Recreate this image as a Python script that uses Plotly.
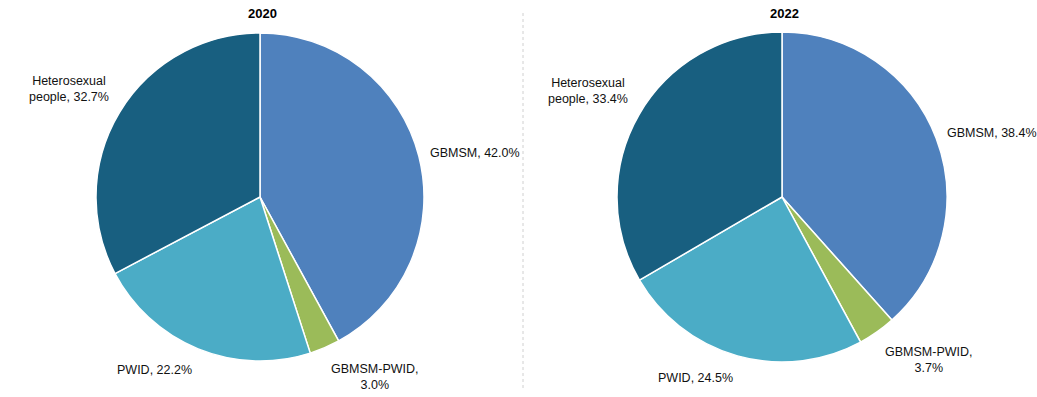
import math
import plotly.graph_objects as go

years = ["2020", "2022"]
categories = ["GBMSM", "GBMSM-PWID", "PWID", "Heterosexual people"]
label_text = ["GBMSM, {v:.1f}%", "GBMSM-PWID,<br>{v:.1f}%", "PWID, {v:.1f}%", "Heterosexual<br>people, {v:.1f}%"]
values_2020 = [42.0, 3.0, 22.2, 32.7]
values_2022 = [38.4, 3.7, 24.5, 33.4]
colors = ["#4F81BD", "#9BBB59", "#4BACC6", "#185F80"]

W, H = 1037, 397
pies = [
    dict(year=years[0], values=values_2020, cx=260, cy=197, r=164),
    dict(year=years[1], values=values_2022, cx=782, cy=197, r=165),
]

def fx(x):
    return x / W

def fy(y):
    return 1 - y / H

fig = go.Figure()
annotations = []
FONT = "Liberation Sans"
for p in pies:
    cx, cy, r = p["cx"], p["cy"], p["r"]
    fig.add_trace(go.Pie(
        labels=categories, values=p["values"], sort=False, direction="clockwise",
        rotation=0, marker=dict(colors=colors, line=dict(color="white", width=1.5)),
        textinfo="none", hoverinfo="label+percent", showlegend=False,
        domain=dict(x=[fx(cx - r), fx(cx + r)], y=[fy(cy + r), fy(cy - r)]),
    ))
    total = sum(p["values"])
    cum = 0.0
    for i, v in enumerate(p["values"]):
        mid = (cum + v / 2) / total * 2 * math.pi
        cum += v
        dx, dy = math.sin(mid), math.cos(mid)  # dy positive = up
        px = cx + 1.06 * r * dx
        py = cy - 1.08 * r * dy
        xa = "left" if dx > 0.2 else ("right" if dx < -0.2 else "center")
        ya = "bottom" if dy > 0.45 else ("top" if dy < -0.45 else "middle")
        annotations.append(dict(
            x=fx(px), y=fy(py), xref="paper", yref="paper",
            text=label_text[i].format(v=v), showarrow=False,
            xanchor=xa, yanchor=ya, align="center",
            font=dict(family=FONT, size=12.5, color="#111111"),
        ))
    annotations.append(dict(
        x=fx(cx + 2), y=fy(14), xref="paper", yref="paper",
        text="<b>" + p["year"] + "</b>", showarrow=False,
        xanchor="center", yanchor="middle",
        font=dict(family=FONT, size=13, color="#000000"),
    ))

fig.update_layout(
    width=W, height=H, margin=dict(l=0, r=0, t=0, b=0),
    paper_bgcolor="white", plot_bgcolor="white",
    annotations=annotations,
    shapes=[dict(type="line", xref="paper", yref="paper",
                 x0=fx(523), x1=fx(523), y0=fy(388), y1=fy(12),
                 line=dict(color="#d0d0d0", width=1, dash="dot"))],
)
fig.write_html("out.html", config={"displayModeBar": False},
               post_script="document.body.style.margin='0';")
